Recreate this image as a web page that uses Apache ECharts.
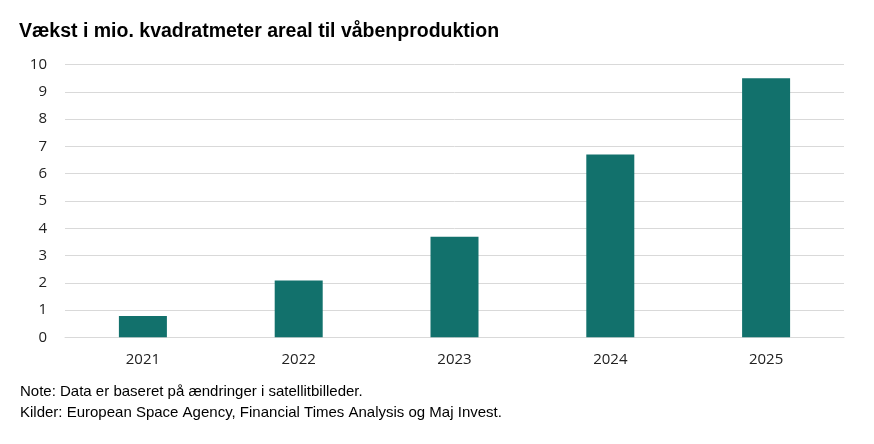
<!DOCTYPE html>
<html>
<head>
<meta charset="utf-8">
<script src="https://cdn.jsdelivr.net/npm/echarts@6/dist/echarts.min.js"></script>
<style>html,body{margin:0;padding:0;background:#fff}#c{width:874px;height:444px}</style>
</head>
<body>
<div id="c"></div>
<script>
const categories = ['2021', '2022', '2023', '2024', '2025'];
const values = [0.78, 2.08, 3.69, 6.71, 9.5];
const yTicks = [0, 1, 2, 3, 4, 5, 6, 7, 8, 9, 10];

const chart = echarts.init(document.getElementById('c'));
chart.setOption({
  animation: false,
  title: {
    text: 'Vækst i mio. kvadratmeter areal til våbenproduktion',
    left: 14, top: 17,
    textStyle: { fontFamily: 'Liberation Sans, Arial', fontSize: 19.5, fontWeight: 'bold', color: '#000' }
  },
  graphic: [
    { type: 'text', left: 20, top: 384, style: { text: 'Note: Data er baseret på ændringer i satellitbilleder.', font: '15px "Liberation Sans", Arial', fill: '#000' } },
    { type: 'text', left: 20, top: 405, style: { text: 'Kilder: European Space Agency, Financial Times Analysis og Maj Invest.', font: '15px "Liberation Sans", Arial', fill: '#000' } }
  ],
  grid: { left: 65, right: 30, top: 64.7, bottom: 106.7 },
  xAxis: {
    type: 'category', data: categories,
    axisLine: { show: true, lineStyle: { color: '#d9d9d9' } },
    axisTick: { show: false },
    axisLabel: { fontFamily: 'Open Sans', fontSize: 15, color: '#222', margin: 15 }
  },
  yAxis: {
    type: 'value', min: 0, max: 10, interval: 1,
    axisLine: { show: false }, axisTick: { show: false },
    splitLine: { lineStyle: { color: '#d9d9d9' } },
    axisLabel: { fontFamily: 'Open Sans', fontSize: 15, color: '#222', margin: 18,
      formatter: v => yTicks.includes(v) ? String(v) : '' }
  },
  series: [{
    type: 'bar', data: values, barWidth: 48,
    itemStyle: { color: '#12716c' }
  }]
});
</script>
</body>
</html>
